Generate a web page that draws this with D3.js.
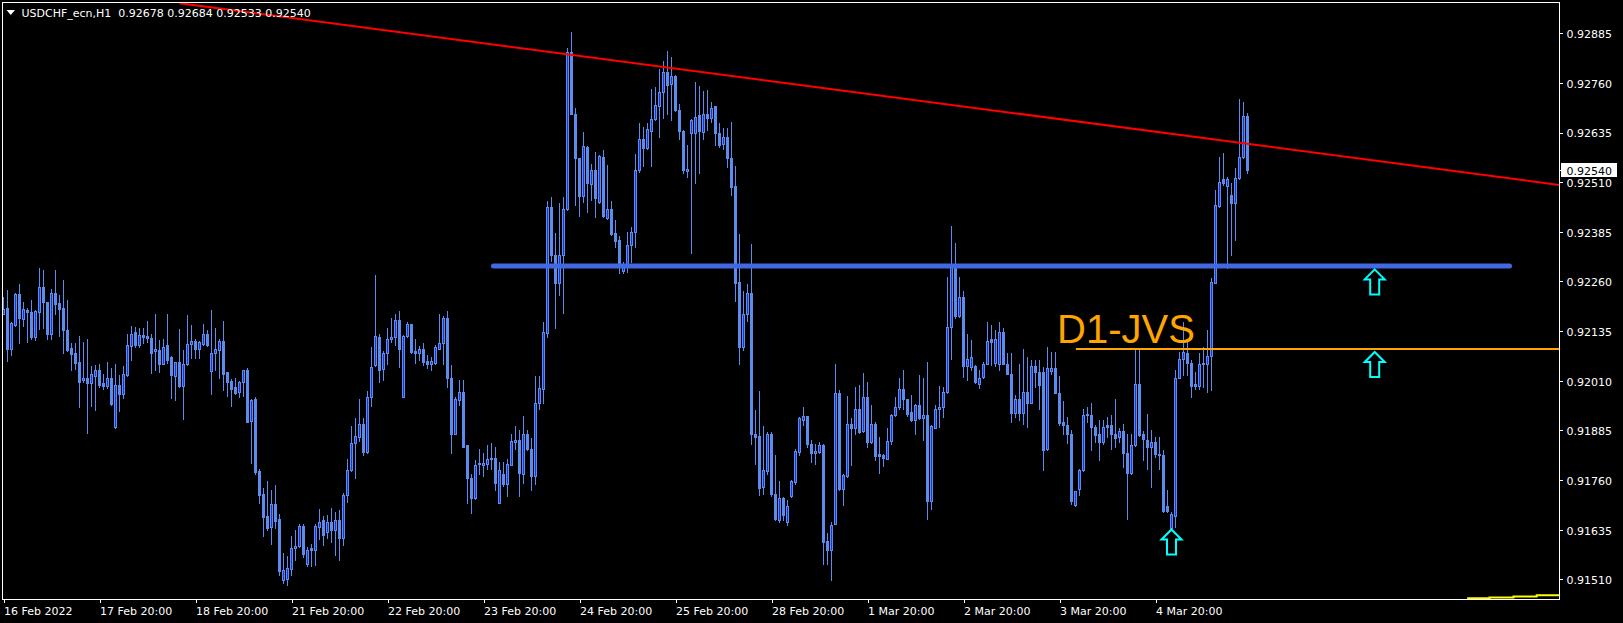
<!DOCTYPE html>
<html><head><meta charset="utf-8">
<script src="https://cdn.jsdelivr.net/npm/d3@7"></script>
<style>html,body{margin:0;padding:0;background:#000;overflow:hidden}</style>
</head><body>
<svg id="c" width="1623" height="623"></svg>
<script>
// ---------- DATA (USDCHF_ecn, H1) ----------
const symbolTitle = "USDCHF_ecn,H1";
const openP = [
0.92179,0.92192,0.92090,0.92151,0.92228,0.92166,0.92188,0.92183,0.92121,0.92184,0.92246,0.92208,
0.92128,0.92231,0.92205,0.92193,0.92137,0.92092,0.92079,0.92057,0.92011,0.92016,0.92005,0.92022,
0.92037,0.92004,0.91996,0.92016,0.91894,0.92000,0.91977,0.92025,0.92098,0.92132,0.92100,0.92126,
0.92122,0.92117,0.92084,0.92088,0.92053,0.92100,0.92069,0.92023,0.92056,0.91998,0.92052,0.92103,
0.92111,0.92090,0.92102,0.92129,0.92035,0.92080,0.92088,0.92110,0.92032,0.92009,0.91994,0.91982,
0.92006,0.92037,0.91909,0.91964,0.91782,0.91725,0.91670,0.91642,0.91699,0.91661,0.91508,0.91510,
0.91537,0.91590,0.91594,0.91645,0.91549,0.91589,0.91585,0.91642,0.91659,0.91628,0.91654,0.91633,
0.91659,0.91613,0.91722,0.91785,0.91854,0.91869,0.91900,0.91831,0.91969,0.92049,0.92120,0.92040,
0.92079,0.92114,0.92121,0.92163,0.91969,0.92122,0.92152,0.92085,0.92079,0.92091,0.92059,0.92051,
0.92055,0.92091,0.92106,0.92167,0.92016,0.91877,0.91961,0.91982,0.91848,0.91766,0.91716,0.91804,
0.91799,0.91801,0.91815,0.91815,0.91703,0.91776,0.91749,0.91799,0.91856,0.91860,0.91776,0.91877,
0.91838,0.91770,0.91953,0.91990,0.92131,0.92447,0.92326,0.92255,0.92326,0.92442,0.92837,0.92683,
0.92570,0.92475,0.92599,0.92505,0.92542,0.92461,0.92573,0.92421,0.92442,0.92381,0.92364,0.92287,
0.92301,0.92352,0.92385,0.92542,0.92620,0.92595,0.92640,0.92668,0.92703,0.92736,0.92787,0.92757,
0.92778,0.92692,0.92640,0.92539,0.92635,0.92635,0.92679,0.92637,0.92682,0.92672,0.92702,0.92635,
0.92605,0.92623,0.92572,0.92500,0.92258,0.92094,0.92178,0.92231,0.91877,0.91870,0.91743,0.91783,
0.91875,0.91726,0.91660,0.91715,0.91654,0.91720,0.91754,0.91831,0.91912,0.91921,0.91852,0.91827,
0.91831,0.91848,0.91606,0.91583,0.91650,0.91980,0.91738,0.91770,0.91901,0.91890,0.91940,0.91884,
0.91969,0.91856,0.91901,0.91825,0.91822,0.91814,0.91858,0.91923,0.91943,0.91990,0.91963,0.91932,
0.91911,0.91948,0.91915,0.91923,0.91706,0.91892,0.91940,0.91944,0.91982,0.92146,0.92301,0.92173,
0.92220,0.92047,0.92045,0.92047,0.92001,0.92020,0.92053,0.92114,0.92055,0.92053,0.92133,0.92053,
0.92028,0.91930,0.91963,0.91930,0.91982,0.91955,0.92047,0.92032,0.92031,0.91837,0.92034,0.92043,
0.91980,0.91906,0.91898,0.91877,0.91696,0.91738,0.91785,0.91927,0.91925,0.91894,0.91877,0.91856,
0.91898,0.91898,0.91877,0.91869,0.91884,0.91827,0.91778,0.91848,0.92001,0.91875,0.91862,0.91843,
0.91856,0.91825,0.91822,0.91694,0.91638,0.91669,0.92018,0.92064,0.92080,0.92055,0.92003,0.91996,
0.92052,0.92052,0.92072,0.92257,0.92450,0.92517,0.92500,0.92478,0.92457,0.92520,0.92573,0.92678];
const highP = [
0.92221,0.92238,0.92158,0.92230,0.92253,0.92209,0.92194,0.92213,0.92188,0.92293,0.92289,0.92209,
0.92242,0.92289,0.92226,0.92263,0.92213,0.92104,0.92105,0.92122,0.92107,0.92115,0.92048,0.92050,
0.92053,0.92027,0.92057,0.92041,0.92051,0.92024,0.92047,0.92127,0.92147,0.92146,0.92144,0.92142,
0.92161,0.92127,0.92179,0.92112,0.92116,0.92178,0.92073,0.92058,0.92140,0.92087,0.92175,0.92150,
0.92115,0.92110,0.92153,0.92137,0.92189,0.92142,0.92116,0.92161,0.92033,0.92015,0.92016,0.92009,
0.92038,0.92041,0.91964,0.91969,0.91789,0.91741,0.91758,0.91734,0.91747,0.91675,0.91576,0.91568,
0.91618,0.91633,0.91649,0.91649,0.91591,0.91600,0.91649,0.91688,0.91669,0.91671,0.91689,0.91679,
0.91684,0.91727,0.91812,0.91896,0.91917,0.91964,0.91915,0.91985,0.92094,0.92276,0.92129,0.92085,
0.92142,0.92167,0.92179,0.92186,0.92124,0.92158,0.92154,0.92114,0.92097,0.92106,0.92074,0.92070,
0.92100,0.92178,0.92173,0.92185,0.92049,0.91969,0.92013,0.92011,0.91849,0.91776,0.91810,0.91838,
0.91829,0.91848,0.91854,0.91842,0.91806,0.91806,0.91812,0.91877,0.91896,0.91885,0.91921,0.91887,
0.91867,0.92022,0.92022,0.92157,0.92463,0.92472,0.92381,0.92458,0.92473,0.92847,0.92889,0.92697,
0.92572,0.92636,0.92601,0.92557,0.92587,0.92578,0.92591,0.92553,0.92463,0.92415,0.92375,0.92310,
0.92385,0.92398,0.92580,0.92660,0.92650,0.92658,0.92744,0.92751,0.92795,0.92815,0.92840,0.92825,
0.92780,0.92707,0.92641,0.92604,0.92668,0.92763,0.92752,0.92740,0.92742,0.92713,0.92703,0.92660,
0.92646,0.92646,0.92662,0.92552,0.92379,0.92237,0.92253,0.92354,0.91936,0.91984,0.91896,0.91881,
0.91881,0.91822,0.91757,0.91717,0.91709,0.91760,0.91839,0.91919,0.91944,0.91922,0.91860,0.91852,
0.91856,0.91852,0.91627,0.91654,0.92052,0.91986,0.91776,0.91971,0.91915,0.91995,0.91999,0.92030,
0.92007,0.91948,0.91906,0.91869,0.91825,0.91890,0.91926,0.91969,0.92016,0.92038,0.91965,0.91974,
0.91951,0.92024,0.92016,0.92058,0.91898,0.91948,0.91996,0.91995,0.92272,0.92400,0.92356,0.92272,
0.92236,0.92129,0.92112,0.92049,0.92037,0.92058,0.92158,0.92150,0.92139,0.92158,0.92142,0.92079,
0.92080,0.91974,0.92053,0.92089,0.92070,0.92062,0.92062,0.92062,0.92045,0.92094,0.92083,0.92083,
0.92022,0.91959,0.91919,0.91885,0.91733,0.91789,0.91938,0.91944,0.91953,0.91898,0.91911,0.91911,
0.91919,0.91923,0.91965,0.91890,0.91902,0.91877,0.91877,0.92087,0.92087,0.91884,0.91927,0.91887,
0.91869,0.91869,0.91835,0.91734,0.91680,0.92037,0.92083,0.92158,0.92112,0.92062,0.92032,0.92079,
0.92095,0.92137,0.92268,0.92490,0.92573,0.92584,0.92524,0.92509,0.92547,0.92719,0.92713,0.92684];
const lowP = [
0.92178,0.92060,0.92074,0.92149,0.92105,0.92147,0.92108,0.92116,0.92112,0.92140,0.92144,0.92114,
0.92114,0.92179,0.92122,0.92080,0.92085,0.92037,0.92040,0.91944,0.92007,0.91879,0.91947,0.91937,
0.91995,0.91988,0.91993,0.91950,0.91892,0.91933,0.91967,0.92023,0.92062,0.92095,0.92094,0.92106,
0.92108,0.92030,0.92037,0.92032,0.92051,0.92055,0.91966,0.91962,0.91995,0.91913,0.92049,0.92068,
0.92068,0.92068,0.92100,0.92098,0.91976,0.92037,0.92016,0.91986,0.91971,0.91947,0.91976,0.91968,
0.91971,0.91906,0.91803,0.91776,0.91702,0.91619,0.91635,0.91598,0.91640,0.91520,0.91500,0.91495,
0.91520,0.91558,0.91591,0.91566,0.91543,0.91544,0.91545,0.91612,0.91596,0.91613,0.91603,0.91570,
0.91558,0.91596,0.91705,0.91783,0.91766,0.91859,0.91822,0.91829,0.91947,0.92048,0.92006,0.92011,
0.92053,0.92108,0.92100,0.92045,0.91968,0.92121,0.92081,0.92055,0.92062,0.92049,0.92041,0.92038,
0.92052,0.92090,0.92052,0.91995,0.91828,0.91875,0.91948,0.91842,0.91703,0.91677,0.91712,0.91776,
0.91770,0.91789,0.91789,0.91736,0.91701,0.91744,0.91721,0.91797,0.91837,0.91719,0.91753,0.91835,
0.91736,0.91751,0.91940,0.91953,0.92119,0.92312,0.92144,0.92226,0.92181,0.92440,0.92682,0.92452,
0.92426,0.92461,0.92436,0.92465,0.92423,0.92458,0.92423,0.92417,0.92377,0.92347,0.92282,0.92282,
0.92284,0.92310,0.92346,0.92536,0.92551,0.92593,0.92551,0.92667,0.92625,0.92671,0.92683,0.92667,
0.92690,0.92620,0.92534,0.92524,0.92331,0.92509,0.92534,0.92620,0.92641,0.92662,0.92604,0.92599,
0.92593,0.92549,0.92479,0.92211,0.92053,0.92087,0.92161,0.91852,0.91801,0.91722,0.91726,0.91776,
0.91719,0.91659,0.91654,0.91659,0.91646,0.91717,0.91749,0.91822,0.91898,0.91843,0.91806,0.91801,
0.91827,0.91549,0.91549,0.91507,0.91649,0.91734,0.91696,0.91768,0.91797,0.91877,0.91879,0.91881,
0.91842,0.91853,0.91810,0.91778,0.91795,0.91812,0.91852,0.91921,0.91940,0.91940,0.91921,0.91909,
0.91877,0.91913,0.91860,0.91663,0.91688,0.91890,0.91894,0.91919,0.91980,0.92064,0.92169,0.92171,
0.92020,0.92011,0.92037,0.92005,0.91993,0.92016,0.92052,0.92049,0.92047,0.92037,0.92052,0.92026,
0.91906,0.91919,0.91911,0.91902,0.91894,0.91953,0.91995,0.91940,0.91785,0.91835,0.92028,0.91978,
0.91898,0.91877,0.91854,0.91699,0.91694,0.91722,0.91783,0.91906,0.91835,0.91856,0.91810,0.91852,
0.91869,0.91839,0.91843,0.91856,0.91793,0.91663,0.91776,0.91845,0.91871,0.91810,0.91789,0.91743,
0.91818,0.91789,0.91680,0.91680,0.91635,0.91642,0.92016,0.92024,0.92024,0.91968,0.91990,0.91990,
0.91995,0.91982,0.91986,0.92255,0.92448,0.92503,0.92293,0.92326,0.92364,0.92518,0.92570,0.92533];
const closeP = [
0.92190,0.92090,0.92156,0.92228,0.92168,0.92190,0.92183,0.92119,0.92185,0.92246,0.92209,0.92128,
0.92231,0.92203,0.92191,0.92137,0.92087,0.92078,0.92055,0.92007,0.92016,0.92005,0.92026,0.92037,
0.92000,0.91996,0.92016,0.91952,0.92000,0.91977,0.92026,0.92099,0.92129,0.92100,0.92126,0.92119,
0.92117,0.92080,0.92090,0.92053,0.92096,0.92062,0.92024,0.92056,0.91996,0.92053,0.92103,0.92110,
0.92090,0.92107,0.92129,0.92100,0.92079,0.92090,0.92110,0.92027,0.92007,0.91990,0.91980,0.92006,
0.92037,0.91907,0.91961,0.91779,0.91722,0.91667,0.91640,0.91699,0.91657,0.91531,0.91533,0.91539,
0.91590,0.91595,0.91645,0.91573,0.91585,0.91584,0.91644,0.91654,0.91621,0.91654,0.91633,0.91659,
0.91613,0.91722,0.91785,0.91854,0.91870,0.91900,0.91831,0.91969,0.92045,0.92122,0.92038,0.92079,
0.92114,0.92121,0.92163,0.92090,0.92122,0.92154,0.92083,0.92079,0.92089,0.92058,0.92051,0.92059,
0.92094,0.92106,0.92167,0.92016,0.91877,0.91963,0.91982,0.91843,0.91766,0.91716,0.91799,0.91800,
0.91804,0.91814,0.91813,0.91753,0.91785,0.91749,0.91801,0.91858,0.91862,0.91778,0.91877,0.91839,
0.91770,0.91953,0.91993,0.92132,0.92447,0.92326,0.92255,0.92326,0.92442,0.92839,0.92683,0.92570,
0.92476,0.92601,0.92507,0.92542,0.92471,0.92576,0.92426,0.92442,0.92379,0.92363,0.92301,0.92301,
0.92352,0.92385,0.92542,0.92620,0.92595,0.92644,0.92668,0.92704,0.92736,0.92787,0.92755,0.92778,
0.92692,0.92640,0.92541,0.92543,0.92667,0.92673,0.92640,0.92683,0.92672,0.92698,0.92635,0.92604,
0.92623,0.92572,0.92499,0.92257,0.92094,0.92178,0.92231,0.91877,0.91869,0.91740,0.91785,0.91875,
0.91724,0.91661,0.91716,0.91671,0.91694,0.91757,0.91832,0.91917,0.91921,0.91850,0.91827,0.91832,
0.91848,0.91604,0.91583,0.91648,0.91980,0.91738,0.91772,0.91901,0.91890,0.91940,0.91881,0.91969,
0.91856,0.91901,0.91820,0.91820,0.91816,0.91858,0.91923,0.91943,0.91990,0.91963,0.91927,0.91911,
0.91948,0.91915,0.91923,0.91706,0.91896,0.91940,0.91944,0.91982,0.92146,0.92301,0.92173,0.92220,
0.92047,0.92066,0.92070,0.92007,0.92016,0.92052,0.92110,0.92108,0.92114,0.92133,0.92053,0.92028,
0.91930,0.91963,0.91930,0.91982,0.91955,0.92047,0.92032,0.91999,0.91835,0.92043,0.92043,0.91980,
0.91904,0.91898,0.91877,0.91707,0.91732,0.91785,0.91925,0.91923,0.91894,0.91873,0.91856,0.91894,
0.91894,0.91877,0.91867,0.91884,0.91827,0.91778,0.91848,0.92001,0.91873,0.91864,0.91843,0.91856,
0.91825,0.91822,0.91682,0.91682,0.91675,0.92018,0.92064,0.92083,0.92055,0.91996,0.91996,0.92052,
0.92055,0.92072,0.92259,0.92452,0.92511,0.92507,0.92517,0.92457,0.92520,0.92573,0.92677,0.92540];

const timeTickBars   = [0,24,48,72,96,120,144,168,192,216,240,264,288];
const timeTickLabels = ["16 Feb 2022","17 Feb 20:00","18 Feb 20:00","21 Feb 20:00","22 Feb 20:00",
  "23 Feb 20:00","24 Feb 20:00","25 Feb 20:00","28 Feb 20:00","1 Mar 20:00","2 Mar 20:00",
  "3 Mar 20:00","4 Mar 20:00"];
const priceTicks = [0.92885,0.92760,0.92635,0.92510,0.92385,0.92260,0.92135,0.92010,0.91885,0.91760,0.91635,0.91510];

// chart objects (bar index, price)
const trendBars = [44, 389], trendPrices = [0.92961, 0.92503];
const supportBars = [122.5, 376.5], supportPrice = 0.92299;
const jvsBars = [268.1, 389], jvsPrice = 0.92090;
const jvsLabel = {bar: 263.4, price: 0.92106, text: "D1-JVS"};
const arrowBars = [292, 342.8, 342.8], arrowPrices = [0.91638, 0.92293, 0.92085];
const yellowBars = [365.9, 371.5, 377.5, 383.3, 389], yellowPrices = [0.91462, 0.91464, 0.91467, 0.91470, 0.91470];

// ---------- LAYOUT ----------
const W = 1623, H = 623;
const L = 2, R = 1559, T = 2, B = 599;
const svg = d3.select("#c");
svg.append("rect").attr("width", W).attr("height", H).attr("fill", "#000");

const x = d3.scaleLinear().domain([0, 389]).range([3.5, 1559.5]);
const y = d3.scaleLinear().domain([0.914604, 0.929689]).range([599, 0]);

const FONT = "'DejaVu Sans', sans-serif";
const BEAR = "#5b8cee", BULLIN = "#1438d8";

svg.append("clipPath").attr("id", "pc").append("rect")
  .attr("x", L + 1).attr("y", T + 1).attr("width", R - L - 1).attr("height", B - T - 1);
const plot = svg.append("g").attr("clip-path", "url(#pc)").attr("shape-rendering", "crispEdges");

const data = openP.map((o, i) => ({i, o, h: highP[i], l: lowP[i], c: closeP[i]}));
const g = plot.selectAll("g.cd").data(data).join("g").attr("class", "cd");
g.append("rect")
  .attr("x", d => x(d.i) - 0.5).attr("width", 1)
  .attr("y", d => Math.round(y(d.h)))
  .attr("height", d => Math.max(1, Math.round(y(d.l)) - Math.round(y(d.h)) + 1))
  .attr("fill", BEAR);
g.append("rect")
  .attr("x", d => x(d.i) - 1.5).attr("width", 3)
  .attr("y", d => Math.round(y(Math.max(d.o, d.c))))
  .attr("height", d => Math.max(1, Math.round(y(Math.min(d.o, d.c))) - Math.round(y(Math.max(d.o, d.c))) + 1))
  .attr("fill", BEAR);
g.filter(d => d.c > d.o && (Math.round(y(d.o)) - Math.round(y(d.c))) > 1).append("rect")
  .attr("x", d => x(d.i) - 0.5).attr("width", 1)
  .attr("y", d => Math.round(y(d.c)) + 1)
  .attr("height", d => Math.round(y(d.o)) - Math.round(y(d.c)) - 1)
  .attr("fill", BULLIN);

const objs = svg.append("g").attr("clip-path", "url(#pc)");
// support (thick blue)
objs.append("line")
  .attr("x1", x(supportBars[0])).attr("x2", x(supportBars[1]))
  .attr("y1", y(supportPrice)).attr("y2", y(supportPrice))
  .attr("stroke", "#4169e1").attr("stroke-width", 5).attr("stroke-linecap", "round");
// orange level
objs.append("line")
  .attr("x1", x(jvsBars[0])).attr("x2", x(jvsBars[1]))
  .attr("y1", Math.round(y(jvsPrice))).attr("y2", Math.round(y(jvsPrice)))
  .attr("stroke", "#ffa500").attr("stroke-width", 2);
// yellow small stepped line
objs.append("path")
  .attr("d", d3.line().x((d, k) => x(yellowBars[k])).y(d => y(d)).curve(d3.curveStepAfter)(yellowPrices))
  .attr("fill", "none").attr("stroke", "#ffff00").attr("stroke-width", 2);

// header
const hdr = svg.append("g");
hdr.append("path").attr("d", "M6.5,10 L15,10 L10.75,15 Z").attr("fill", "#fff");
hdr.append("text").attr("x", 21.5).attr("y", 16.5)
  .attr("font-family", FONT).attr("font-size", 11).attr("fill", "#fff")
  .style("white-space", "pre")
  .text(symbolTitle + "  " + [openP[311], highP[311], lowP[311], closeP[311]].map(d3.format(".5f")).join(" "));

// trendline (red) over header
objs.append("line")
  .attr("x1", x(trendBars[0])).attr("x2", x(trendBars[1]))
  .attr("y1", y(trendPrices[0])).attr("y2", y(trendPrices[1]))
  .attr("stroke", "#ff0000").attr("stroke-width", 2);

// label
objs.append("text").attr("x", x(jvsLabel.bar)).attr("y", y(jvsLabel.price))
  .attr("font-family", "'Liberation Sans', Arial, sans-serif").attr("font-size", 40)
  .attr("fill", "#ffa500").text(jvsLabel.text);

// arrows
const arrowPath = "M0,1 L10,11 L4.5,11 L4.5,26 L-4.5,26 L-4.5,11 L-10,11 Z";
arrowBars.forEach((b, k) => {
  objs.append("path").attr("d", arrowPath)
    .attr("transform", `translate(${x(b)},${y(arrowPrices[k])})`)
    .attr("fill", "#000").attr("stroke", "#00ffff").attr("stroke-width", 2)
    .attr("stroke-linejoin", "miter");
});

// frame
svg.append("rect").attr("x", L + 0.5).attr("y", T + 0.5).attr("width", R - L).attr("height", B - T)
  .attr("fill", "none").attr("stroke", "#fff").attr("stroke-width", 1).attr("shape-rendering", "crispEdges");

// right price axis
const ya = svg.append("g").attr("transform", `translate(${R + 0.5},0)`)
  .call(d3.axisRight(y).tickValues(priceTicks).tickSize(3).tickPadding(4).tickFormat(d3.format(".5f")));
ya.select(".domain").remove();
ya.selectAll("line").attr("stroke", "#fff").attr("shape-rendering", "crispEdges");
ya.selectAll("text").attr("fill", "#fff").attr("font-family", FONT).attr("font-size", 11).attr("dy", "0.4em");

// current price marker
const lp = closeP[311];
svg.append("rect").attr("x", 1561).attr("y", Math.round(y(lp)) - 7).attr("width", 56).attr("height", 14).attr("fill", "#fff");
svg.append("line").attr("x1", R).attr("x2", R + 4).attr("y1", Math.round(y(lp)) + 0.5).attr("y2", Math.round(y(lp)) + 0.5)
  .attr("stroke", "#fff");
svg.append("text").attr("x", R + 7.5).attr("y", y(lp)).attr("dy", "0.4em")
  .attr("font-family", FONT).attr("font-size", 11).attr("fill", "#000").text(d3.format(".5f")(lp));

// bottom time axis
const xa = svg.append("g").attr("transform", `translate(0,${B + 0.5})`)
  .call(d3.axisBottom(x).tickValues(timeTickBars).tickSize(3).tickPadding(5)
    .tickFormat((d, k) => timeTickLabels[k]));
xa.select(".domain").remove();
xa.selectAll("line").attr("stroke", "#fff").attr("shape-rendering", "crispEdges");
xa.selectAll("text").attr("fill", "#fff").attr("font-family", FONT).attr("font-size", 11)
  .attr("text-anchor", "start").attr("x", 0);
</script>
</body></html>
